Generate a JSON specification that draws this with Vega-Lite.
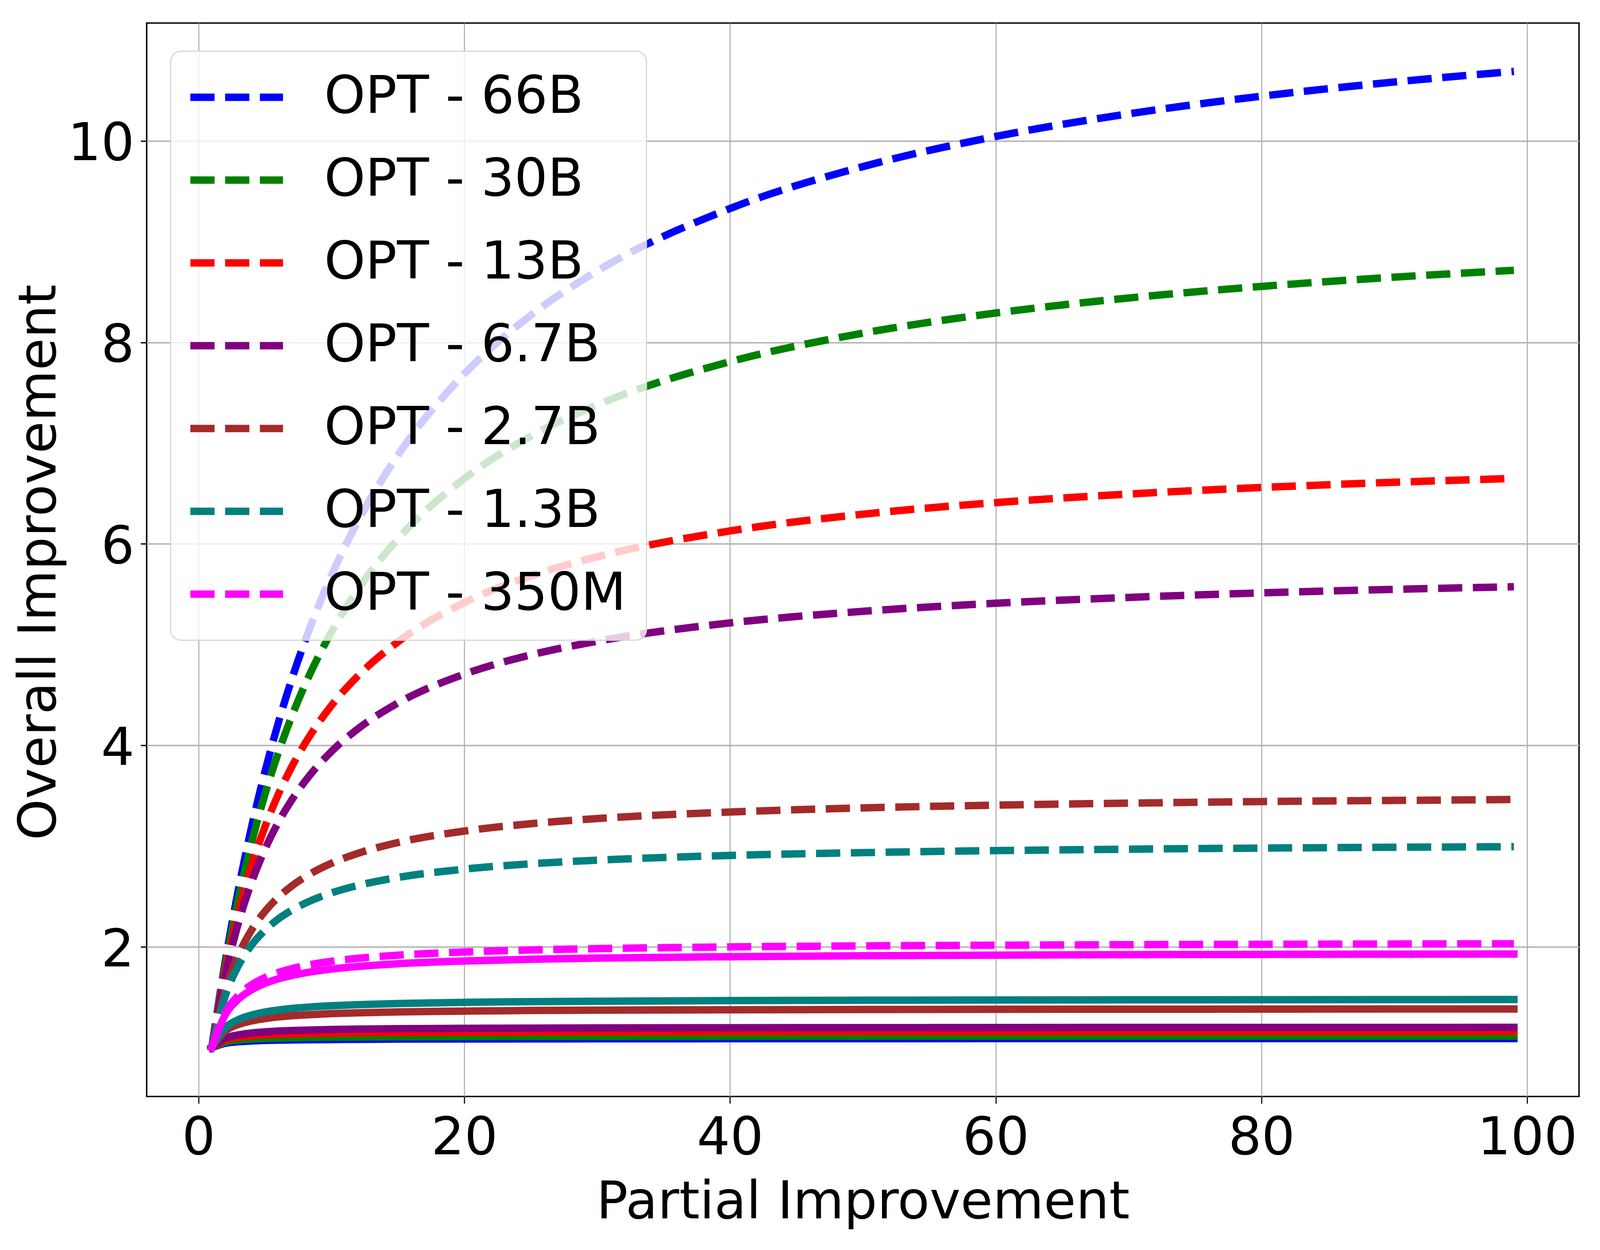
{
"$schema": "https://vega.github.io/schema/vega-lite/v6.json",
"width": 3666.8, "height": 2748,
"autosize": {"type": "none"},
"padding": {"left": 375.5, "top": 59, "right": 53.7, "bottom": 393},
"background": "white",
"config": {
  "view": {"stroke": "black", "strokeWidth": 3.7},
  "font": "DejaVu Sans",
  "axis": {"grid": true, "gridColor": "#b0b0b0", "domain": false, "tickColor": "black", "labelFont": "DejaVu Sans", "labelFontSize": 134, "labelColor": "black", "labelLimit": 2000, "titleFont": "DejaVu Sans", "titleFontSize": 134, "titleFontWeight": "normal", "titleColor": "black", "titleLimit": 5000}
},
"datasets": {
"dashed": [
{"model":"OPT - 66B","x":1,"y":1},{"model":"OPT - 66B","x":2,"y":1.845},{"model":"OPT - 66B","x":3,"y":2.567},{"model":"OPT - 66B","x":4,"y":3.193},{"model":"OPT - 66B","x":5,"y":3.739},{"model":"OPT - 66B","x":6,"y":4.221},{"model":"OPT - 66B","x":7,"y":4.649},{"model":"OPT - 66B","x":8,"y":5.031},{"model":"OPT - 66B","x":10,"y":5.686},{"model":"OPT - 66B","x":12,"y":6.226},{"model":"OPT - 66B","x":15,"y":6.880},{"model":"OPT - 66B","x":20,"y":7.687},{"model":"OPT - 66B","x":25,"y":8.269},{"model":"OPT - 66B","x":30,"y":8.709},{"model":"OPT - 66B","x":40,"y":9.329},{"model":"OPT - 66B","x":50,"y":9.745},{"model":"OPT - 66B","x":60,"y":10.044},{"model":"OPT - 66B","x":70,"y":10.269},{"model":"OPT - 66B","x":80,"y":10.444},{"model":"OPT - 66B","x":90,"y":10.585},{"model":"OPT - 66B","x":99,"y":10.690},
{"model":"OPT - 30B","x":1,"y":1},{"model":"OPT - 30B","x":2,"y":1.809},{"model":"OPT - 30B","x":3,"y":2.477},{"model":"OPT - 30B","x":4,"y":3.037},{"model":"OPT - 30B","x":5,"y":3.514},{"model":"OPT - 30B","x":6,"y":3.925},{"model":"OPT - 30B","x":7,"y":4.283},{"model":"OPT - 30B","x":8,"y":4.598},{"model":"OPT - 30B","x":10,"y":5.125},{"model":"OPT - 30B","x":12,"y":5.549},{"model":"OPT - 30B","x":15,"y":6.049},{"model":"OPT - 30B","x":20,"y":6.648},{"model":"OPT - 30B","x":25,"y":7.069},{"model":"OPT - 30B","x":30,"y":7.380},{"model":"OPT - 30B","x":40,"y":7.809},{"model":"OPT - 30B","x":50,"y":8.092},{"model":"OPT - 30B","x":60,"y":8.292},{"model":"OPT - 30B","x":70,"y":8.441},{"model":"OPT - 30B","x":80,"y":8.556},{"model":"OPT - 30B","x":90,"y":8.648},{"model":"OPT - 30B","x":99,"y":8.716},
{"model":"OPT - 13B","x":1,"y":1},{"model":"OPT - 13B","x":2,"y":1.752},{"model":"OPT - 13B","x":3,"y":2.338},{"model":"OPT - 13B","x":4,"y":2.807},{"model":"OPT - 13B","x":5,"y":3.191},{"model":"OPT - 13B","x":6,"y":3.512},{"model":"OPT - 13B","x":7,"y":3.783},{"model":"OPT - 13B","x":8,"y":4.016},{"model":"OPT - 13B","x":10,"y":4.395},{"model":"OPT - 13B","x":12,"y":4.690},{"model":"OPT - 13B","x":15,"y":5.027},{"model":"OPT - 13B","x":20,"y":5.417},{"model":"OPT - 13B","x":25,"y":5.681},{"model":"OPT - 13B","x":30,"y":5.872},{"model":"OPT - 13B","x":40,"y":6.129},{"model":"OPT - 13B","x":50,"y":6.295},{"model":"OPT - 13B","x":60,"y":6.410},{"model":"OPT - 13B","x":70,"y":6.495},{"model":"OPT - 13B","x":80,"y":6.560},{"model":"OPT - 13B","x":90,"y":6.612},{"model":"OPT - 13B","x":99,"y":6.650},
{"model":"OPT - 6.7B","x":1,"y":1},{"model":"OPT - 6.7B","x":2,"y":1.708},{"model":"OPT - 6.7B","x":3,"y":2.236},{"model":"OPT - 6.7B","x":4,"y":2.644},{"model":"OPT - 6.7B","x":5,"y":2.969},{"model":"OPT - 6.7B","x":6,"y":3.235},{"model":"OPT - 6.7B","x":7,"y":3.455},{"model":"OPT - 6.7B","x":8,"y":3.641},{"model":"OPT - 6.7B","x":10,"y":3.939},{"model":"OPT - 6.7B","x":12,"y":4.165},{"model":"OPT - 6.7B","x":15,"y":4.420},{"model":"OPT - 6.7B","x":20,"y":4.707},{"model":"OPT - 6.7B","x":25,"y":4.898},{"model":"OPT - 6.7B","x":30,"y":5.034},{"model":"OPT - 6.7B","x":40,"y":5.216},{"model":"OPT - 6.7B","x":50,"y":5.331},{"model":"OPT - 6.7B","x":60,"y":5.411},{"model":"OPT - 6.7B","x":70,"y":5.469},{"model":"OPT - 6.7B","x":80,"y":5.514},{"model":"OPT - 6.7B","x":90,"y":5.549},{"model":"OPT - 6.7B","x":99,"y":5.575},
{"model":"OPT - 2.7B","x":1,"y":1},{"model":"OPT - 2.7B","x":2,"y":1.561},{"model":"OPT - 2.7B","x":3,"y":1.919},{"model":"OPT - 2.7B","x":4,"y":2.169},{"model":"OPT - 2.7B","x":5,"y":2.352},{"model":"OPT - 2.7B","x":6,"y":2.492},{"model":"OPT - 2.7B","x":7,"y":2.603},{"model":"OPT - 2.7B","x":8,"y":2.693},{"model":"OPT - 2.7B","x":10,"y":2.830},{"model":"OPT - 2.7B","x":12,"y":2.929},{"model":"OPT - 2.7B","x":15,"y":3.036},{"model":"OPT - 2.7B","x":20,"y":3.150},{"model":"OPT - 2.7B","x":25,"y":3.223},{"model":"OPT - 2.7B","x":30,"y":3.274},{"model":"OPT - 2.7B","x":40,"y":3.339},{"model":"OPT - 2.7B","x":50,"y":3.380},{"model":"OPT - 2.7B","x":60,"y":3.407},{"model":"OPT - 2.7B","x":70,"y":3.427},{"model":"OPT - 2.7B","x":80,"y":3.443},{"model":"OPT - 2.7B","x":90,"y":3.454},{"model":"OPT - 2.7B","x":99,"y":3.463},
{"model":"OPT - 1.3B","x":1,"y":1},{"model":"OPT - 1.3B","x":2,"y":1.507},{"model":"OPT - 1.3B","x":3,"y":1.814},{"model":"OPT - 1.3B","x":4,"y":2.019},{"model":"OPT - 1.3B","x":5,"y":2.166},{"model":"OPT - 1.3B","x":6,"y":2.277},{"model":"OPT - 1.3B","x":7,"y":2.363},{"model":"OPT - 1.3B","x":8,"y":2.432},{"model":"OPT - 1.3B","x":10,"y":2.536},{"model":"OPT - 1.3B","x":12,"y":2.610},{"model":"OPT - 1.3B","x":15,"y":2.689},{"model":"OPT - 1.3B","x":20,"y":2.772},{"model":"OPT - 1.3B","x":25,"y":2.825},{"model":"OPT - 1.3B","x":30,"y":2.861},{"model":"OPT - 1.3B","x":40,"y":2.908},{"model":"OPT - 1.3B","x":50,"y":2.936},{"model":"OPT - 1.3B","x":60,"y":2.956},{"model":"OPT - 1.3B","x":70,"y":2.970},{"model":"OPT - 1.3B","x":80,"y":2.981},{"model":"OPT - 1.3B","x":90,"y":2.989},{"model":"OPT - 1.3B","x":99,"y":2.995},
{"model":"OPT - 350M","x":1,"y":1},{"model":"OPT - 350M","x":2,"y":1.345},{"model":"OPT - 350M","x":3,"y":1.519},{"model":"OPT - 350M","x":4,"y":1.625},{"model":"OPT - 350M","x":5,"y":1.696},{"model":"OPT - 350M","x":6,"y":1.746},{"model":"OPT - 350M","x":7,"y":1.784},{"model":"OPT - 350M","x":8,"y":1.814},{"model":"OPT - 350M","x":10,"y":1.857},{"model":"OPT - 350M","x":12,"y":1.887},{"model":"OPT - 350M","x":15,"y":1.918},{"model":"OPT - 350M","x":20,"y":1.950},{"model":"OPT - 350M","x":25,"y":1.970},{"model":"OPT - 350M","x":30,"y":1.983},{"model":"OPT - 350M","x":40,"y":2.000},{"model":"OPT - 350M","x":50,"y":2.010},{"model":"OPT - 350M","x":60,"y":2.017},{"model":"OPT - 350M","x":70,"y":2.022},{"model":"OPT - 350M","x":80,"y":2.026},{"model":"OPT - 350M","x":90,"y":2.029},{"model":"OPT - 350M","x":99,"y":2.031}
],
"solid": [
{"model":"OPT - 66B","x":1,"y":1},{"model":"OPT - 66B","x":2,"y":1.044},{"model":"OPT - 66B","x":3,"y":1.059},{"model":"OPT - 66B","x":4,"y":1.067},{"model":"OPT - 66B","x":5,"y":1.072},{"model":"OPT - 66B","x":6,"y":1.075},{"model":"OPT - 66B","x":7,"y":1.077},{"model":"OPT - 66B","x":8,"y":1.079},{"model":"OPT - 66B","x":10,"y":1.081},{"model":"OPT - 66B","x":12,"y":1.083},{"model":"OPT - 66B","x":15,"y":1.085},{"model":"OPT - 66B","x":20,"y":1.086},{"model":"OPT - 66B","x":25,"y":1.087},{"model":"OPT - 66B","x":30,"y":1.088},{"model":"OPT - 66B","x":40,"y":1.089},{"model":"OPT - 66B","x":50,"y":1.089},{"model":"OPT - 66B","x":60,"y":1.090},{"model":"OPT - 66B","x":70,"y":1.090},{"model":"OPT - 66B","x":80,"y":1.090},{"model":"OPT - 66B","x":90,"y":1.090},{"model":"OPT - 66B","x":99,"y":1.090},
{"model":"OPT - 30B","x":1,"y":1},{"model":"OPT - 30B","x":2,"y":1.055},{"model":"OPT - 30B","x":3,"y":1.075},{"model":"OPT - 30B","x":4,"y":1.085},{"model":"OPT - 30B","x":5,"y":1.091},{"model":"OPT - 30B","x":6,"y":1.095},{"model":"OPT - 30B","x":7,"y":1.098},{"model":"OPT - 30B","x":8,"y":1.101},{"model":"OPT - 30B","x":10,"y":1.104},{"model":"OPT - 30B","x":12,"y":1.106},{"model":"OPT - 30B","x":15,"y":1.108},{"model":"OPT - 30B","x":20,"y":1.110},{"model":"OPT - 30B","x":25,"y":1.112},{"model":"OPT - 30B","x":30,"y":1.112},{"model":"OPT - 30B","x":40,"y":1.113},{"model":"OPT - 30B","x":50,"y":1.114},{"model":"OPT - 30B","x":60,"y":1.115},{"model":"OPT - 30B","x":70,"y":1.115},{"model":"OPT - 30B","x":80,"y":1.115},{"model":"OPT - 30B","x":90,"y":1.115},{"model":"OPT - 30B","x":99,"y":1.115},
{"model":"OPT - 13B","x":1,"y":1},{"model":"OPT - 13B","x":2,"y":1.076},{"model":"OPT - 13B","x":3,"y":1.103},{"model":"OPT - 13B","x":4,"y":1.118},{"model":"OPT - 13B","x":5,"y":1.127},{"model":"OPT - 13B","x":6,"y":1.133},{"model":"OPT - 13B","x":7,"y":1.137},{"model":"OPT - 13B","x":8,"y":1.140},{"model":"OPT - 13B","x":10,"y":1.145},{"model":"OPT - 13B","x":12,"y":1.148},{"model":"OPT - 13B","x":15,"y":1.151},{"model":"OPT - 13B","x":20,"y":1.154},{"model":"OPT - 13B","x":25,"y":1.156},{"model":"OPT - 13B","x":30,"y":1.157},{"model":"OPT - 13B","x":40,"y":1.159},{"model":"OPT - 13B","x":50,"y":1.160},{"model":"OPT - 13B","x":60,"y":1.160},{"model":"OPT - 13B","x":70,"y":1.161},{"model":"OPT - 13B","x":80,"y":1.161},{"model":"OPT - 13B","x":90,"y":1.161},{"model":"OPT - 13B","x":99,"y":1.162},
{"model":"OPT - 6.7B","x":1,"y":1},{"model":"OPT - 6.7B","x":2,"y":1.093},{"model":"OPT - 6.7B","x":3,"y":1.127},{"model":"OPT - 6.7B","x":4,"y":1.146},{"model":"OPT - 6.7B","x":5,"y":1.157},{"model":"OPT - 6.7B","x":6,"y":1.165},{"model":"OPT - 6.7B","x":7,"y":1.170},{"model":"OPT - 6.7B","x":8,"y":1.174},{"model":"OPT - 6.7B","x":10,"y":1.180},{"model":"OPT - 6.7B","x":12,"y":1.184},{"model":"OPT - 6.7B","x":15,"y":1.188},{"model":"OPT - 6.7B","x":20,"y":1.192},{"model":"OPT - 6.7B","x":25,"y":1.194},{"model":"OPT - 6.7B","x":30,"y":1.196},{"model":"OPT - 6.7B","x":40,"y":1.198},{"model":"OPT - 6.7B","x":50,"y":1.199},{"model":"OPT - 6.7B","x":60,"y":1.200},{"model":"OPT - 6.7B","x":70,"y":1.201},{"model":"OPT - 6.7B","x":80,"y":1.201},{"model":"OPT - 6.7B","x":90,"y":1.201},{"model":"OPT - 6.7B","x":99,"y":1.202},
{"model":"OPT - 2.7B","x":1,"y":1},{"model":"OPT - 2.7B","x":2,"y":1.163},{"model":"OPT - 2.7B","x":3,"y":1.230},{"model":"OPT - 2.7B","x":4,"y":1.266},{"model":"OPT - 2.7B","x":5,"y":1.289},{"model":"OPT - 2.7B","x":6,"y":1.305},{"model":"OPT - 2.7B","x":7,"y":1.317},{"model":"OPT - 2.7B","x":8,"y":1.325},{"model":"OPT - 2.7B","x":10,"y":1.338},{"model":"OPT - 2.7B","x":12,"y":1.346},{"model":"OPT - 2.7B","x":15,"y":1.355},{"model":"OPT - 2.7B","x":20,"y":1.363},{"model":"OPT - 2.7B","x":25,"y":1.369},{"model":"OPT - 2.7B","x":30,"y":1.372},{"model":"OPT - 2.7B","x":40,"y":1.376},{"model":"OPT - 2.7B","x":50,"y":1.379},{"model":"OPT - 2.7B","x":60,"y":1.381},{"model":"OPT - 2.7B","x":70,"y":1.382},{"model":"OPT - 2.7B","x":80,"y":1.383},{"model":"OPT - 2.7B","x":90,"y":1.384},{"model":"OPT - 2.7B","x":99,"y":1.384},
{"model":"OPT - 1.3B","x":1,"y":1},{"model":"OPT - 1.3B","x":2,"y":1.195},{"model":"OPT - 1.3B","x":3,"y":1.278},{"model":"OPT - 1.3B","x":4,"y":1.324},{"model":"OPT - 1.3B","x":5,"y":1.354},{"model":"OPT - 1.3B","x":6,"y":1.374},{"model":"OPT - 1.3B","x":7,"y":1.389},{"model":"OPT - 1.3B","x":8,"y":1.400},{"model":"OPT - 1.3B","x":10,"y":1.416},{"model":"OPT - 1.3B","x":12,"y":1.427},{"model":"OPT - 1.3B","x":15,"y":1.438},{"model":"OPT - 1.3B","x":20,"y":1.450},{"model":"OPT - 1.3B","x":25,"y":1.457},{"model":"OPT - 1.3B","x":30,"y":1.461},{"model":"OPT - 1.3B","x":40,"y":1.467},{"model":"OPT - 1.3B","x":50,"y":1.471},{"model":"OPT - 1.3B","x":60,"y":1.473},{"model":"OPT - 1.3B","x":70,"y":1.475},{"model":"OPT - 1.3B","x":80,"y":1.476},{"model":"OPT - 1.3B","x":90,"y":1.477},{"model":"OPT - 1.3B","x":99,"y":1.478},
{"model":"OPT - 350M","x":1,"y":1},{"model":"OPT - 350M","x":2,"y":1.322},{"model":"OPT - 350M","x":3,"y":1.481},{"model":"OPT - 350M","x":4,"y":1.575},{"model":"OPT - 350M","x":5,"y":1.638},{"model":"OPT - 350M","x":6,"y":1.683},{"model":"OPT - 350M","x":7,"y":1.716},{"model":"OPT - 350M","x":8,"y":1.742},{"model":"OPT - 350M","x":10,"y":1.780},{"model":"OPT - 350M","x":12,"y":1.806},{"model":"OPT - 350M","x":15,"y":1.833},{"model":"OPT - 350M","x":20,"y":1.860},{"model":"OPT - 350M","x":25,"y":1.877},{"model":"OPT - 350M","x":30,"y":1.889},{"model":"OPT - 350M","x":40,"y":1.903},{"model":"OPT - 350M","x":50,"y":1.912},{"model":"OPT - 350M","x":60,"y":1.918},{"model":"OPT - 350M","x":70,"y":1.923},{"model":"OPT - 350M","x":80,"y":1.926},{"model":"OPT - 350M","x":90,"y":1.928},{"model":"OPT - 350M","x":99,"y":1.930}
]
},
"encoding": {
  "x": {"field": "x", "type": "quantitative", "scale": {"domain": [-3.9, 103.9], "nice": false, "zero": false},
        "axis": {"title": "Partial Improvement", "values": [0, 20, 40, 60, 80, 100], "tickSize": 18, "tickWidth": 2.8, "gridWidth": 2.8, "labelBaseline": "alphabetic", "labelPadding": 129, "titleBaseline": "alphabetic", "titleY": 311}},
  "y": {"field": "y", "type": "quantitative", "scale": {"domain": [0.5155, 11.17], "nice": false, "zero": false},
        "axis": {"title": "Overall Improvement", "values": [2, 4, 6, 8, 10], "tickSize": 15.4, "tickWidth": 3.3, "gridWidth": 3.3, "labelBaseline": "alphabetic", "labelOffset": 49, "labelPadding": 16.5, "labelAlign": "right", "titleBaseline": "alphabetic", "titleAngle": 270, "titleAlign": "center", "titleX": -233.8, "titleY": 1380}},
  "color": {"field": "model", "type": "nominal",
    "scale": {"domain": ["OPT - 66B", "OPT - 30B", "OPT - 13B", "OPT - 6.7B", "OPT - 2.7B", "OPT - 1.3B", "OPT - 350M"], "range": ["#0000ff", "#008000", "#ff0000", "#800080", "#a52a2a", "#008080", "#ff00ff"]},
    "legend": {"title": null, "orient": "none", "legendX": 61.4, "legendY": 72, "symbolType": "M-5,0L5,0", "symbolSize": 2250.6, "symbolStrokeWidth": 19, "symbolDash": [62, 27], "symbolOffset": 51, "symbolOpacity": 1, "labelFont": "DejaVu Sans", "labelFontSize": 134, "labelColor": "black", "labelOffset": 157, "labelLimit": 3000, "padding": 51, "rowPadding": 78, "fillColor": "rgba(255,255,255,0.8)", "strokeColor": "#d6d6d6", "cornerRadius": 27,
      "encode": {"legend": {"update": {"strokeWidth": {"value": 3}}}}}}
},
"layer": [
  {"data": {"name": "dashed"}, "mark": {"type": "line", "strokeWidth": 19, "strokeDash": [62, 27], "strokeCap": "butt", "strokeJoin": "round", "interpolate": "monotone"}},
  {"data": {"name": "solid"}, "mark": {"type": "line", "strokeWidth": 19, "strokeCap": "square", "strokeJoin": "round", "interpolate": "monotone"}}
]
}
